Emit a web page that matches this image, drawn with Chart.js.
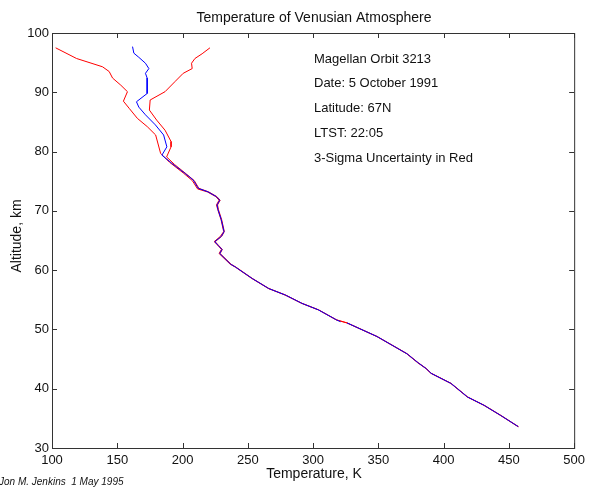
<!DOCTYPE html>
<html>
<head>
<meta charset="utf-8">
<title>Temperature of Venusian Atmosphere</title>
<script src="https://cdn.jsdelivr.net/npm/chart.js@4/dist/chart.umd.min.js"></script>
<style>
  html, body { margin: 0; padding: 0; background: #fff; }
  canvas { display: block; }
</style>
</head>
<body>
<canvas id="grafico" width="590" height="487"></canvas>
<script>
// Perfil medido (azul), temperatura em K e altitude em km
const perfilTemp = [161.7, 162.7, 166.5, 171.6, 174.2, 171.6, 172.9, 172.9, 164.7, 166.5, 171.6, 179.2, 185.5, 188.0, 184.2, 191.9, 202.0, 208.2, 212.0, 219.6, 225.9, 228.5, 226.4, 227.2, 229.7, 231.8, 229.7, 224.7, 227.2, 230.2, 228.5, 236.9, 240.7, 253.3, 266.0, 278.8, 291.4, 304.1, 318.0, 321.0, null, 326.0, 349.0, 371.9, 380.3, 386.6, 390.4, 405.6, 418.3, 431.0, 443.7, 457.2];
const perfilAlt  = [97.7, 96.6, 95.9, 94.9, 94.0, 93.2, 92.4, 89.8, 88.4, 87.5, 86.2, 84.5, 82.8, 80.8, 79.4, 78.0, 76.3, 75.2, 73.8, 73.2, 72.4, 71.8, 71.0, 70.2, 68.5, 66.5, 65.7, 64.8, 64.2, 63.5, 62.8, 61.0, 60.5, 58.6, 56.9, 55.8, 54.4, 53.3, 51.6, 51.3, null, 51.1, 48.8, 45.9, 44.4, 43.4, 42.6, 40.9, 38.6, 37.2, 35.5, 33.6];

// Limite inferior da incerteza 3-sigma (vermelho)
const inferiorTemp = [102.8, 118.8, 138.7, 143.8, 146.4, 152.7, 157.8, 154.7, 159.1, 165.4, 173.0, 179.4, 183.2, 190.0, 200.5, 207.5, 211.5, 219.0, 225.5, 228.0, 226.0, 227.0, 229.5, 231.5, 229.0, 224.2, 227.0, 229.8, 228.0, 236.5, 240.5, 253.0, 265.8, 278.5, 291.2, 304.0, 317.8, 325.8, 348.8, 371.7, 380.0, 386.4, 390.2, 405.4, 418.1, 430.8, 443.5, 457.0];
const inferiorAlt  = [97.5, 95.7, 94.3, 93.5, 92.4, 91.2, 90.1, 88.5, 87.3, 85.6, 84.2, 82.8, 79.7, 78.2, 76.4, 75.1, 73.7, 73.2, 72.4, 71.8, 71.0, 70.2, 68.5, 66.5, 65.7, 64.8, 64.2, 63.5, 62.8, 61.0, 60.5, 58.6, 56.9, 55.8, 54.4, 53.3, 51.6, 51.1, 48.8, 45.9, 44.4, 43.4, 42.6, 40.9, 38.6, 37.2, 35.5, 33.6];

// Limite superior da incerteza 3-sigma (vermelho)
const superiorTemp = [221.0, 215.0, 209.5, 206.9, 207.4, 200.5, 194.2, 186.6, 175.2, 174.6, 180.2, 186.6, 191.2, 191.2, 187.8, 194.0, 203.0, 209.0, 212.5, 220.0, 226.3, 228.8, 226.8, 227.5, 230.0, 232.0, 230.0, 225.0, 227.5, 230.5, 228.8, 237.2, 241.0, 253.5, 266.2, 279.0, 291.6, 304.3, 318.2, 326.2, 349.2, 372.1, 380.5, 386.8, 390.6, 405.8, 418.5, 431.2, 443.9, 457.4];
const superiorAlt  = [97.5, 96.5, 95.7, 94.9, 94.0, 93.2, 91.8, 90.1, 88.7, 87.0, 85.3, 83.6, 81.7, 80.8, 79.1, 77.8, 76.2, 75.1, 73.8, 73.2, 72.4, 71.8, 71.0, 70.2, 68.5, 66.5, 65.7, 64.8, 64.2, 63.5, 62.8, 61.0, 60.5, 58.6, 56.9, 55.8, 54.4, 53.3, 51.6, 51.1, 48.8, 45.9, 44.4, 43.4, 42.6, 40.9, 38.6, 37.2, 35.5, 33.6];

const ticksTemp = [100, 150, 200, 250, 300, 350, 400, 450, 500];
const ticksAlt = [30, 40, 50, 60, 70, 80, 90, 100];

const anotacoes = [
  'Magellan Orbit 3213',
  'Date: 5 October 1991',
  'Latitude: 67N',
  'LTST: 22:05',
  '3-Sigma Uncertainty in Red'
];

const fonte = '"Liberation Sans", Arial, sans-serif';

function pontos(xs, ys) { // junta os arrays em pares {x, y}
  return xs.map((v, i) => ({ x: v, y: ys[i] }));
}

// Fundo branco, caixa com marcas para dentro e os textos soltos
const moldura = {
  id: 'moldura',
  beforeDraw(chart) {
    const ctx = chart.ctx;
    ctx.save();
    ctx.fillStyle = '#fff';
    ctx.fillRect(0, 0, chart.width, chart.height);
    ctx.restore();
  },
  afterDraw(chart) {
    const { ctx, chartArea: a, scales: { x, y } } = chart;
    const tam = 5;
    ctx.save();
    ctx.strokeStyle = '#333';
    ctx.lineWidth = 1;
    ctx.strokeRect(a.left + 0.5, a.top + 0.5, a.right - a.left, a.bottom - a.top);
    ctx.beginPath();
    ticksTemp.forEach(t => {
      const px = Math.round(x.getPixelForValue(t)) + 0.5;
      ctx.moveTo(px, a.bottom); ctx.lineTo(px, a.bottom - tam);
      ctx.moveTo(px, a.top); ctx.lineTo(px, a.top + tam);
    });
    ticksAlt.forEach(h => {
      const py = Math.round(y.getPixelForValue(h)) + 0.5;
      ctx.moveTo(a.left, py); ctx.lineTo(a.left + tam, py);
      ctx.moveTo(a.right, py); ctx.lineTo(a.right - tam, py);
    });
    ctx.stroke();

    ctx.fillStyle = '#111';
    ctx.textBaseline = 'middle';
    ctx.textAlign = 'center';
    ctx.font = '14px ' + fonte;
    ctx.fillText('Temperature of Venusian Atmosphere', 314, 18);
    ctx.fillText('Temperature, K', 314, 474);

    ctx.save();
    ctx.translate(17, 236);
    ctx.rotate(-Math.PI / 2);
    ctx.fillText('Altitude, km', 0, 0);
    ctx.restore();

    ctx.textAlign = 'left';
    ctx.font = '13px ' + fonte;
    anotacoes.forEach((txt, i) => ctx.fillText(txt, 314, 59 + i * 24.8));

    ctx.font = 'italic 10px ' + fonte;
    ctx.fillText('Jon M. Jenkins  1 May 1995', -1, 482);
    ctx.restore();
  }
};

const dados = {
  datasets: [
    { // primeiro dataset fica por cima
      data: pontos(perfilTemp, perfilAlt),
      borderColor: '#0000ff',
      borderWidth: 1,
      spanGaps: false
    },
    {
      data: pontos(inferiorTemp, inferiorAlt),
      borderColor: '#ff0000',
      borderWidth: 1
    },
    {
      data: pontos(superiorTemp, superiorAlt),
      borderColor: '#ff0000',
      borderWidth: 1
    }
  ]
};

const config = {
  type: 'scatter',
  data: dados,
  options: {
    responsive: false,
    animation: false,
    showLine: true,
    elements: { point: { radius: 0, hoverRadius: 0 }, line: { tension: 0 } },
    layout: { padding: { top: 33, right: 13, left: 0, bottom: 0 } },
    scales: {
      x: {
        type: 'linear',
        min: 100,
        max: 500,
        afterFit: s => { s.height = 39; },
        afterBuildTicks: s => { s.ticks = ticksTemp.map(v => ({ value: v })); },
        grid: { display: false, drawTicks: false },
        border: { display: false },
        ticks: { autoSkip: false, maxRotation: 0, padding: 5, color: '#111', font: { family: fonte, size: 13 } }
      },
      y: {
        type: 'linear',
        min: 30,
        max: 100,
        afterFit: s => { s.width = 52; },
        afterBuildTicks: s => { s.ticks = ticksAlt.map(v => ({ value: v })); },
        grid: { display: false, drawTicks: false },
        border: { display: false },
        ticks: { autoSkip: false, padding: 3, color: '#111', font: { family: fonte, size: 13 } }
      }
    },
    plugins: { legend: { display: false }, tooltip: { enabled: false } }
  },
  plugins: [moldura]
};

const grafico = new Chart(document.getElementById('grafico').getContext('2d'), config);
</script>
</body>
</html>
